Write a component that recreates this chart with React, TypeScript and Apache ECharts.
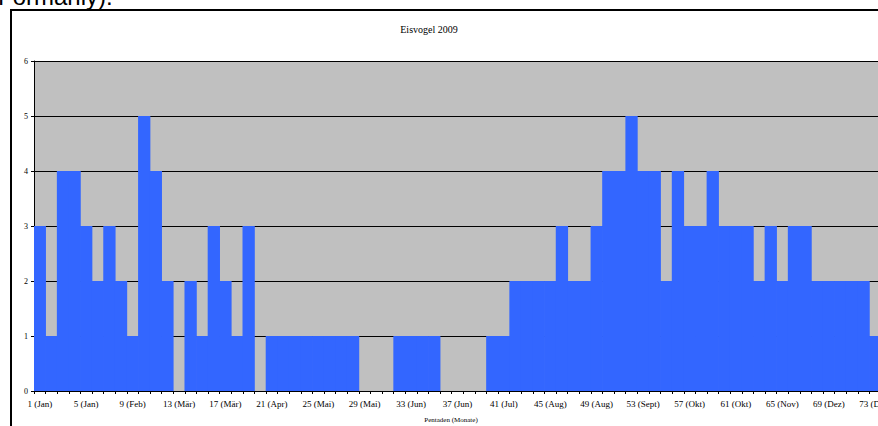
import React, { useEffect, useRef } from "react";
import * as echarts from "echarts";

const pentads: string[] = Array.from({ length: 73 }, (_, i) => String(i + 1));
const counts: number[] = [
  3, 1, 4, 4, 3, 2, 3, 2, 1, 5,
  4, 2, 0, 2, 1, 3, 2, 1, 3, 0,
  1, 1, 1, 1, 1, 1, 1, 1, 0, 0,
  0, 1, 1, 1, 1, 0, 0, 0, 0, 1,
  1, 2, 2, 2, 2, 3, 2, 2, 3, 4,
  4, 5, 4, 4, 2, 4, 3, 3, 4, 3,
  3, 3, 2, 3, 2, 3, 3, 2, 2, 2,
  2, 2, 1,
];
const tickLabels: string[] = [
  "1 (Jan)", "5 (Jan)", "9 (Feb)", "13 (Mär)", "17 (Mär)", "21 (Apr)", "25 (Mai)",
  "29 (Mai)", "33 (Jun)", "37 (Jun)", "41 (Jul)", "45 (Aug)", "49 (Aug)", "53 (Sept)",
  "57 (Okt)", "61 (Okt)", "65 (Nov)", "69 (Dez)", "73 (Dez)",
];
const title = "Eisvogel 2009";
const xName = "Pentaden (Monate)";

const serif = "'Liberation Serif', 'Times New Roman', serif";

export default function App() {
  const ref = useRef<HTMLDivElement>(null);
  useEffect(() => {
    if (!ref.current) return;
    const chart = echarts.init(ref.current, undefined, { renderer: "svg" });
    chart.setOption({
      animation: false,
      backgroundColor: "#ffffff",
      grid: {
        left: 34,
        top: 61,
        width: 847,
        height: 330,
        show: true,
        backgroundColor: "#C0C0C0",
        borderWidth: 0,
        containLabel: false,
        outerBoundsMode: "none",
      },
      xAxis: {
        type: "category",
        data: pentads,
        boundaryGap: true,
        z: 5,
        axisLine: { show: true, lineStyle: { color: "#000", width: 1 } },
        axisTick: { show: true, interval: 0, length: 3, lineStyle: { color: "#000" } },
        axisLabel: {
          interval: 3,
          margin: 8,
          color: "#000",
          fontFamily: serif,
          fontSize: 9,
          formatter: (_v: string, idx: number) => (idx % 4 === 0 ? tickLabels[idx / 4] : ""),
        },
        splitLine: { show: false },
      },
      yAxis: {
        type: "value",
        min: 0,
        max: 6,
        interval: 1,
        axisLine: { show: true, lineStyle: { color: "#000", width: 1 } },
        axisTick: { show: true, length: 3, lineStyle: { color: "#000" } },
        axisLabel: { color: "#000", fontFamily: serif, fontSize: 8, margin: 6 },
        splitLine: { show: true, lineStyle: { color: "#000", width: 1 } },
      },
      series: [
        {
          type: "bar",
          data: counts,
          barWidth: "106%",
          itemStyle: { color: "#3366FF" },
        },
      ],
      graphic: [
        {
          type: "rect",
          shape: { x: 11, y: 10, width: 900, height: 500 },
          style: { fill: "none", stroke: "#000", lineWidth: 2 },
          silent: true,
        },
        {
          type: "text",
          x: -2,
          y: 8,
          style: {
            text: "Formanly).",
            fontFamily: "'Liberation Sans', Arial, sans-serif",
            fontSize: 24,
            fill: "#000",
            verticalAlign: "bottom",
          },
        },
        {
          type: "text",
          x: 429,
          y: 29,
          style: {
            text: title,
            fontFamily: serif,
            fontSize: 10,
            fill: "#000",
            align: "center",
            verticalAlign: "middle",
          },
        },
        {
          type: "text",
          x: 451,
          y: 420,
          style: {
            text: xName,
            fontFamily: serif,
            fontSize: 7,
            fill: "#000",
            align: "center",
            verticalAlign: "middle",
          },
        },
      ],
    });
    return () => chart.dispose();
  }, []);
  return (
    <div
      ref={ref}
      style={{ position: "fixed", left: 0, top: 0, width: 878, height: 426, background: "#fff" }}
    />
  );
}
